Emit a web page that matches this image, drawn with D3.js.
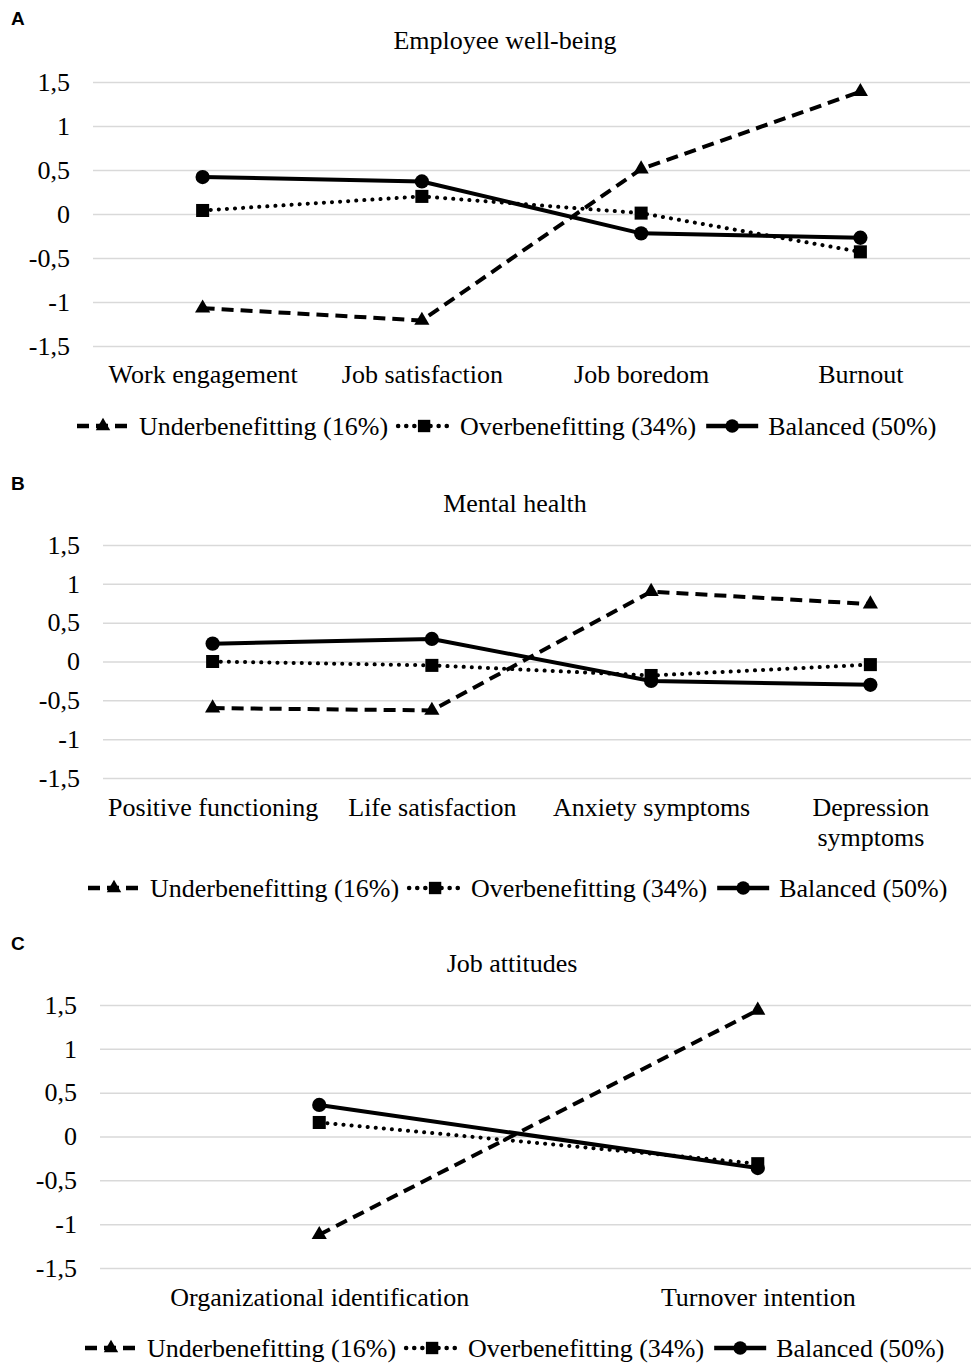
<!DOCTYPE html>
<html>
<head>
<meta charset="utf-8">
<script src="https://cdn.jsdelivr.net/npm/d3@7"></script>
<style>
  body { margin: 0; background: #fff; }
  svg { display: block; }
  text { font-family: "Liberation Serif", "Times New Roman", serif; fill: #000; }
</style>
</head>
<body>
<script>
const width = 971
const height = 1363

// series (legend) names
const seriesNames = ["Underbenefitting (16%)", "Overbenefitting (34%)", "Balanced (50%)"]
const yTicks = [1.5, 1, 0.5, 0, -0.5, -1, -1.5]

// A - employee well-being
const wellbeingCats = ["Work engagement", "Job satisfaction", "Job boredom", "Burnout"]
const wellbeingUnder = [-1.07, -1.21, 0.51, 1.39]
const wellbeingOver = [0.04, 0.2, 0.01, -0.43]
const wellbeingBalanced = [0.42, 0.37, -0.22, -0.27]

// B - mental health
const mentalCats = ["Positive functioning", "Life satisfaction", "Anxiety symptoms", "Depression symptoms"]
const mentalUnder = [-0.6, -0.63, 0.9, 0.74]
const mentalOver = [0.0, -0.05, -0.18, -0.04]
const mentalBalanced = [0.23, 0.29, -0.25, -0.3]

// C - job attitudes
const attitudeCats = ["Organizational identification", "Turnover intention"]
const attitudeUnder = [-1.12, 1.44]
const attitudeOver = [0.16, -0.31]
const attitudeBalanced = [0.36, -0.36]

const panels = [
    {letter: "A", title: "Employee well-being", cats: wellbeingCats,
     values: [wellbeingUnder, wellbeingOver, wellbeingBalanced],
     x0: 93, x1: 970, yTop: 82, yBot: 346, letterY: 18, titleX: 505, titleY: 40,
     catY: 377, legendX: 77, legendY: 426},
    {letter: "B", title: "Mental health", cats: mentalCats,
     values: [mentalUnder, mentalOver, mentalBalanced],
     x0: 103, x1: 980, yTop: 545, yBot: 778, letterY: 483, titleX: 515, titleY: 503,
     catY: 810, legendX: 88, legendY: 888},
    {letter: "C", title: "Job attitudes", cats: attitudeCats,
     values: [attitudeUnder, attitudeOver, attitudeBalanced],
     x0: 100, x1: 977, yTop: 1005, yBot: 1268, letterY: 943, titleX: 512, titleY: 963,
     catY: 1300, legendX: 85, legendY: 1348}
]

const styles = [
    {dash: "12,7", cap: "butt", symbol: d3.symbolTriangle, size: 100},
    {dash: "0.1,8", cap: "round", symbol: d3.symbolSquare, size: 170},
    {dash: null, cap: "butt", symbol: d3.symbolCircle, size: 160}
]

const fontSize = 26
const fmt = d => String(d).replace(".", ",")

const svg = d3.select("body").append("svg")
    .attr("width", width)
    .attr("height", height)
    .attr("viewBox", [0, 0, width, height])

function wrap(text, w) {
    text.each(function() {
        const t = d3.select(this)
        const words = t.text().split(/\s+/)
        const y = t.attr("y")
        const dy = parseFloat(t.attr("dy"))
        t.text(null)
        let line = []
        let tspan = t.append("tspan").attr("x", 0).attr("y", y).attr("dy", dy + "em")
        let lineNo = 0
        for (const word of words) {
            line.push(word)
            tspan.text(line.join(" "))
            if (tspan.node().getComputedTextLength() > w && line.length > 1) {
                line.pop()
                tspan.text(line.join(" "))
                line = [word]
                lineNo++
                tspan = t.append("tspan").attr("x", 0).attr("y", y)
                    .attr("dy", (lineNo * 1.15 + dy) + "em").text(word)
            }
        }
    })
}

panels.forEach(p => {
    const g = svg.append("g")

    const x = d3.scalePoint()
        .domain(p.cats)
        .range([p.x0, p.x1])
        .padding(0.5)

    const y = d3.scaleLinear()
        .domain([-1.5, 1.5])
        .range([p.yBot, p.yTop])

    // panel letter
    g.append("text")
        .attr("x", 11)
        .attr("y", p.letterY)
        .attr("dy", "0.35em")
        .style("font-family", "'Liberation Sans', Arial, sans-serif")
        .style("font-weight", "bold")
        .style("font-size", "19px")
        .text(p.letter)

    // title
    g.append("text")
        .attr("x", p.titleX)
        .attr("y", p.titleY)
        .attr("dy", "0.35em")
        .attr("text-anchor", "middle")
        .style("font-size", fontSize + "px")
        .text(p.title)

    // y axis + gridlines
    g.append("g")
        .attr("transform", `translate(${p.x0},0)`)
        .call(d3.axisLeft(y)
            .tickValues(yTicks)
            .tickSize(-(p.x1 - p.x0))
            .tickPadding(23)
            .tickFormat(fmt))
        .call(a => a.select(".domain").remove())
        .call(a => a.selectAll(".tick line")
            .attr("stroke", "#d9d9d9")
            .attr("stroke-width", 1.5))
        .call(a => a.selectAll(".tick text")
            .style("font-family", "'Liberation Serif', serif")
            .style("font-size", fontSize + "px")
            .attr("fill", "#000"))

    // category labels
    g.append("g")
        .attr("transform", `translate(0,${p.catY - 12})`)
        .call(d3.axisBottom(x).tickSize(0).tickPadding(0))
        .call(a => a.select(".domain").remove())
        .call(a => a.selectAll(".tick text")
            .style("font-family", "'Liberation Serif', serif")
            .style("font-size", fontSize + "px")
            .attr("fill", "#000")
            .attr("dy", "0.71em")
            .call(wrap, x.step() - 2))

    // series
    p.values.forEach((vals, i) => {
        const s = styles[i]
        const pts = vals.map((v, j) => [x(p.cats[j]), y(v)])

        g.append("path")
            .datum(pts)
            .attr("fill", "none")
            .attr("stroke", "#000")
            .attr("stroke-width", 4)
            .attr("stroke-linecap", s.cap)
            .attr("stroke-linejoin", "round")
            .attr("stroke-dasharray", s.dash)
            .attr("d", d3.line())

        g.selectAll(null)
            .data(pts)
            .join("path")
            .attr("transform", d => `translate(${d[0]},${d[1]})`)
            .attr("fill", "#000")
            .attr("d", d3.symbol(s.symbol, s.size))
    })

    // legend
    const leg = g.append("g")
        .attr("transform", `translate(0,${p.legendY})`)
    let cx = p.legendX
    seriesNames.forEach((name, i) => {
        const s = styles[i]
        leg.append("line")
            .attr("x1", cx).attr("x2", cx + 52)
            .attr("stroke", "#000")
            .attr("stroke-width", 4.5)
            .attr("stroke-linecap", s.cap)
            .attr("stroke-dasharray", s.dash)
        leg.append("path")
            .attr("transform", `translate(${cx + 26},0)`)
            .attr("d", d3.symbol(s.symbol, s.size * 0.9))
        const t = leg.append("text")
            .attr("x", cx + 62)
            .attr("dy", "0.35em")
            .style("font-size", fontSize + "px")
            .text(name)
        cx += 62 + t.node().getComputedTextLength() + 10
    })
})
</script>
</body>
</html>
